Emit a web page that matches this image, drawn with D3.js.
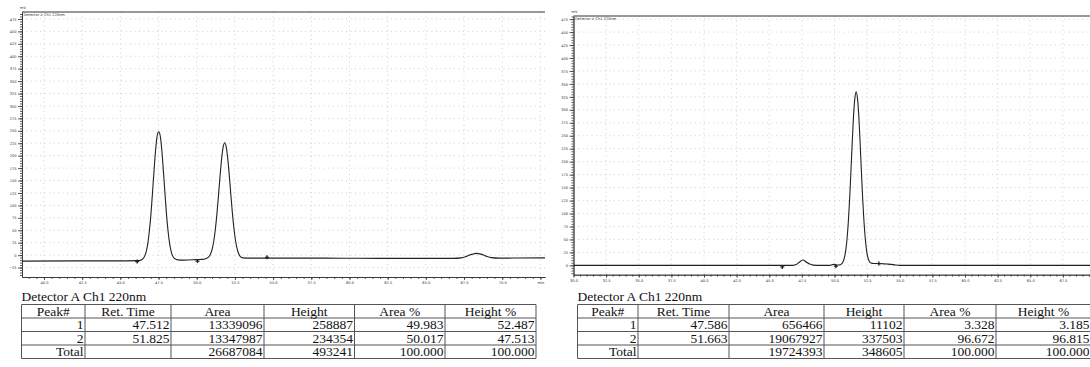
<!DOCTYPE html>
<html>
<head>
<meta charset="UTF-8">
<style>
  body { margin: 0; background: #fff; }
  svg { display: block; }
  .grid line { stroke: #c4c4c4; stroke-width: 0.8; stroke-dasharray: 1,3.5; }
  .axis path, .axis line { stroke: #333; stroke-width: 0.8; }
  .axis text { font-family: 'DejaVu Sans', sans-serif; font-size: 3.6px; fill: #333; }
  .frame { stroke: #333; stroke-width: 1; }
  .small { font-family: 'DejaVu Sans', sans-serif; font-size: 3.6px; fill: #333; }
  .trace { fill: none; stroke: #222; stroke-width: 1.1; }
  .mark { fill: #222; }
  .tbl text { font-family: 'Liberation Serif', serif; font-size: 13.5px; fill: #111; }
  .tbl line { stroke: #555; stroke-width: 1; }
</style>
<script src="https://cdn.jsdelivr.net/npm/d3@7"></script>
</head>
<body>
<svg id="chart"></svg>
<script>

// ---- data ----
var yTickValues = [-25, 0, 25, 50, 75, 100, 125, 150, 175, 200, 225, 250, 275, 300, 325, 350, 375, 400, 425, 450, 475];

var leftXTicks = [40, 42.5, 45, 47.5, 50, 52.5, 55, 57.5, 60, 62.5, 65, 67.5, 70, 72.5];
var leftXLabels = ['40.0', '42.5', '45.0', '47.5', '50.0', '52.5', '55.0', '57.5', '60.0', '62.5', '65.0', '67.5', '70.0', 'min'];
var rightXTicks = [30, 32.5, 35, 37.5, 40, 42.5, 45, 47.5, 50, 52.5, 55, 57.5, 60, 62.5, 65, 67.5];
var rightXLabels = ['30.0', '32.5', '35.0', '37.5', '40.0', '42.5', '45.0', '47.5', '50.0', '52.5', '55.0', '57.5', '60.0', '62.5', '65.0', '67.5'];

// racemate trace (min, mV)
var leftTime = [38.56, 42.0, 45.0, 46.0, 46.3, 46.5, 46.6, 46.7, 46.8, 46.9, 47.0, 47.1, 47.2, 47.3, 47.4, 47.51,
  47.62, 47.72, 47.82, 47.92, 48.02, 48.12, 48.22, 48.32, 48.42, 48.52, 48.75, 49.2, 50.0, 50.4,
  50.63, 50.83, 50.93, 51.03, 51.13, 51.23, 51.33, 51.43, 51.53, 51.63, 51.73, 51.83,
  51.93, 52.03, 52.13, 52.23, 52.33, 52.43, 52.53, 52.63, 52.73, 52.83, 53.03, 53.5,
  57.0, 62.0, 66.8, 67.3, 67.7, 68.0, 68.3, 68.6, 68.9, 69.3, 69.8, 72.8];
var leftSignal = [-12, -11.5, -11.5, -11, -10.5, -6.5, -1.5, 8, 24, 49, 82, 124, 168, 209, 238, 248,
  238, 209, 168, 124, 82, 49, 24, 8, -1.5, -6, -9.5, -10, -9, -8.5,
  -6.8, -1.9, 4.2, 14.6, 31, 55, 86, 122.6, 160.5, 194, 217.6, 226,
  217.6, 194, 160.5, 122.6, 86, 55, 31, 14.6, 4.2, -1.9, -5.5, -6,
  -6, -6.5, -6.5, -5.5, -2, 1.5, 3.5, 2, -1.5, -5, -6, -5.5];
var leftMarkTime = [46.1, 50.05, 54.6];
var leftMarkValue = [-13, -12, -4.5];

// enriched sample trace (min, mV)
var rightTime = [30.0, 46.0, 46.8, 47.1, 47.3, 47.59, 47.85, 48.1, 48.4, 48.8, 49.6, 49.85, 50.0, 50.15,
  50.46, 50.56, 50.66, 50.76, 50.86, 50.96, 51.06, 51.16, 51.26, 51.36, 51.46, 51.56, 51.66,
  51.76, 51.86, 51.96, 52.06, 52.16, 52.26, 52.36, 52.46, 52.56, 52.66, 52.8, 53.0, 53.4, 54.0, 54.5, 55.0, 72.0];
var rightSignal = [0, 0, 0, 2, 6, 10.5, 6, 2.5, 0.5, 0, 0, 1.5, 2, 0.5,
  1.3, 3.2, 7.1, 14.8, 28.5, 51, 84, 128, 182, 238, 289, 322, 335,
  322, 289, 238, 182, 128, 84, 51, 28.5, 15, 8, 4.5, 3.5, 3.5, 2.5, 1.5, 0, 0];
var rightMarkTime = [46.0, 50.1, 53.4];
var rightMarkValue = [-3, -1.5, 3.5];

// peak tables
var tableHeader = ['Peak#', 'Ret. Time', 'Area', 'Height', 'Area %', 'Height %'];
var leftRows = [
  ['1', '47.512', '13339096', '258887', '49.983', '52.487'],
  ['2', '51.825', '13347987', '234354', '50.017', '47.513'],
  ['Total', '', '26687084', '493241', '100.000', '100.000']
];
var rightRows = [
  ['1', '47.586', '656466', '11102', '3.328', '3.185'],
  ['2', '51.663', '19067927', '337503', '96.672', '96.815'],
  ['Total', '', '19724393', '348605', '100.000', '100.000']
];
var tableTitle = 'Detector A Ch1 220nm';

// ---- drawing ----
var width = 1090, height = 367;
var svg = d3.select('#chart').attr('width', width).attr('height', height);

function drawChart(c) {
  var x = d3.scaleLinear().domain(c.xDomain).range(c.xRange);
  var y = d3.scaleLinear().domain(c.yDomain).range(c.yRange);
  var yT = yTickValues.filter(function(v) { return v >= c.yDomain[0] && v <= c.yDomain[1]; });
  var g = svg.append('g');

  var grid = g.append('g').attr('class', 'grid');
  grid.selectAll('.h').data(yT).join('line').attr('class', 'h')
      .attr('x1', c.xRange[0]).attr('x2', c.xRange[1])
      .attr('y1', function(d) { return y(d); }).attr('y2', function(d) { return y(d); });
  grid.selectAll('.v').data(c.xTicks.slice(c.xTicks[0] === c.xDomain[0] ? 1 : 0)).join('line').attr('class', 'v')
      .attr('x1', function(d) { return x(d); }).attr('x2', function(d) { return x(d); })
      .attr('y1', c.yRange[1]).attr('y2', c.yRange[0]);

  // minor ticks
  g.append('g').attr('class', 'axis')
      .attr('transform', 'translate(' + c.xRange[0] + ',0)')
      .call(d3.axisLeft(y).tickValues(d3.range(Math.ceil(c.yDomain[0] / 5) * 5, c.yDomain[1], 5))
        .tickSize(2).tickSizeOuter(0).tickFormat(''));
  g.append('g').attr('class', 'axis')
      .attr('transform', 'translate(0,' + c.yRange[0] + ')')
      .call(d3.axisBottom(x).tickValues(d3.range(Math.ceil(c.xDomain[0] * 2) / 2, c.xDomain[1], 0.5))
        .tickSize(2).tickSizeOuter(0).tickFormat(''));

  // major ticks
  g.append('g').attr('class', 'axis')
      .attr('transform', 'translate(' + c.xRange[0] + ',0)')
      .call(d3.axisLeft(y).tickValues(yT).tickSize(4).tickSizeOuter(0).tickPadding(1.5));
  g.append('g').attr('class', 'axis')
      .attr('transform', 'translate(0,' + c.yRange[0] + ')')
      .call(d3.axisBottom(x).tickValues(c.xTicks).tickSize(3).tickSizeOuter(0).tickPadding(1.5)
        .tickFormat(function(d, i) { return c.xLabels[i]; }));

  g.append('line').attr('class', 'frame')
      .attr('x1', c.xRange[0]).attr('x2', c.xRange[1])
      .attr('y1', c.yRange[1]).attr('y2', c.yRange[1]);

  g.append('text').attr('class', 'small')
      .attr('x', c.xRange[0] - 2).attr('y', c.yRange[1] - 3).text('mV');
  g.append('text').attr('class', 'small')
      .attr('x', c.xRange[0] + 1.5).attr('y', c.yRange[1] + 3.5).text('Detector A Ch1 220nm');

  var line = d3.line()
      .x(function(d, i) { return x(c.time[i]); })
      .y(function(d) { return y(d); })
      .curve(d3.curveMonotoneX);
  g.append('path').attr('class', 'trace').attr('d', line(c.signal));

  g.selectAll('.mark').data(c.markTime).join('path').attr('class', 'mark')
      .attr('transform', function(d, i) { return 'translate(' + x(d) + ',' + y(c.markValue[i]) + ')'; })
      .attr('d', d3.symbol().type(d3.symbolCross).size(9));
}

function drawTable(t) {
  var g = svg.append('g').attr('class', 'tbl');
  var rows = [tableHeader].concat(t.rows);
  var cols = t.cols;
  var rowY = d3.range(rows.length + 1).map(function(i) { return t.top + i * t.rowH; });

  g.append('text').attr('x', cols[0]).attr('y', t.top - 4).text(tableTitle);

  g.selectAll('.hl').data(rowY).join('line').attr('class', 'hl')
      .attr('x1', cols[0]).attr('x2', cols[cols.length - 1])
      .attr('y1', function(d) { return d; }).attr('y2', function(d) { return d; });
  g.selectAll('.vl').data(cols).join('line').attr('class', 'vl')
      .attr('x1', function(d) { return d; }).attr('x2', function(d) { return d; })
      .attr('y1', rowY[0]).attr('y2', rowY[rowY.length - 1]);

  rows.forEach(function(r, ri) {
    r.forEach(function(cell, ci) {
      var head = ri === 0;
      g.append('text')
          .attr('x', head ? (cols[ci] + cols[ci + 1]) / 2 : cols[ci + 1] - 1.5)
          .attr('y', rowY[ri + 1] - 2.5)
          .attr('text-anchor', head ? 'middle' : 'end')
          .text(cell);
    });
  });
}

drawChart({
  xDomain: [38.56, 72.8], xRange: [22, 545],
  yDomain: [-44, 489], yRange: [277, 12],
  xTicks: leftXTicks, xLabels: leftXLabels,
  time: leftTime, signal: leftSignal,
  markTime: leftMarkTime, markValue: leftMarkValue
});
drawChart({
  xDomain: [30, 72], xRange: [573.5, 573.5 + 42 * 13.05],
  yDomain: [-18, 481], yRange: [274.7, 16],
  xTicks: rightXTicks, xLabels: rightXLabels,
  time: rightTime, signal: rightSignal,
  markTime: rightMarkTime, markValue: rightMarkValue
});

drawTable({ rows: leftRows, cols: [21.5, 85, 171, 264, 354.5, 445, 536], top: 304.5, rowH: 13.5 });
drawTable({ rows: rightRows, cols: [577.5, 638, 729, 824, 904, 996, 1091], top: 304.5, rowH: 13.5 });

</script>
</body>
</html>
